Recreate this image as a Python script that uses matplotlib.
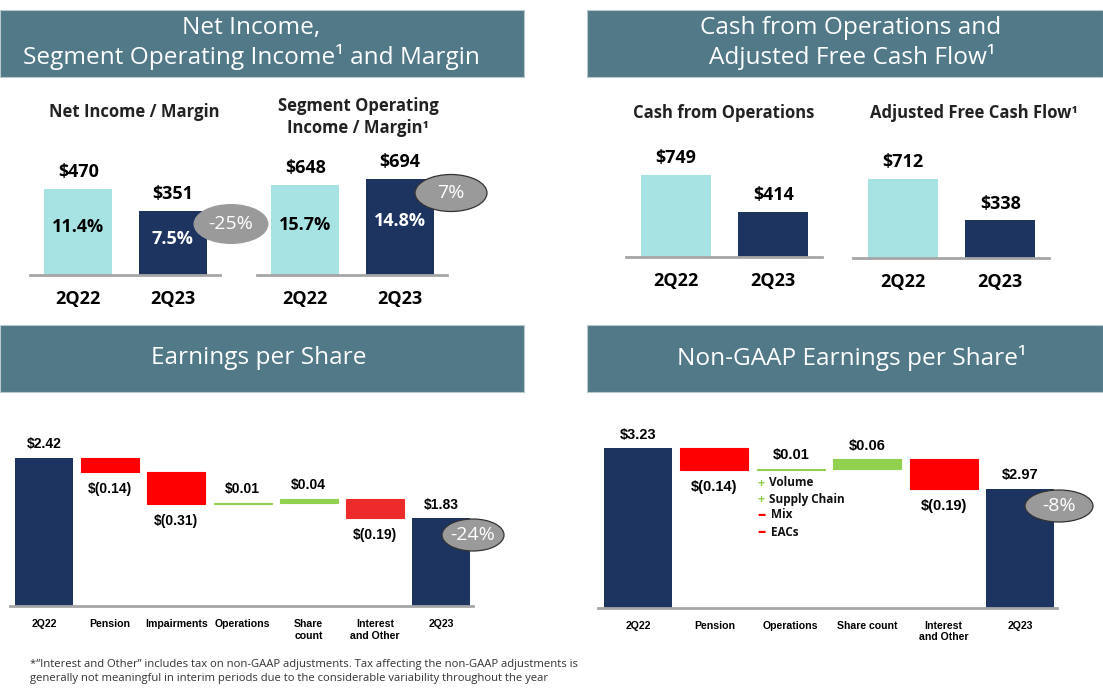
import numpy as np
import matplotlib
matplotlib.use('Agg')
import matplotlib.pyplot as plt
from matplotlib.patches import Ellipse, Rectangle

W, H = 1103, 690
NAVY = '#1D3461'
TEAL = '#A6E3E2'
RED = '#FF0000'
RED2 = '#EE2B2B'
GREEN = '#92D050'
HEAD = '#517987'
AXLINE = '#A6A6A6'
BUBBLE = '#9A9A9A'
TOPF = 'Open Sans'
WFF = 'Liberation Sans'

# ---- data ----
periods = ['2Q22', '2Q23']
net_income = [470, 351]
net_margin = ['11.4%', '7.5%']
seg_income = [648, 694]
seg_margin = ['15.7%', '14.8%']
cash_ops = [749, 414]
adj_fcf = [712, 338]

eps_steps = ['2Q22', 'Pension', 'Impairments', 'Operations', 'Share\ncount',
             'Interest\nand Other', '2Q23']
eps_start, eps_end = 2.42, 1.83
eps_deltas = [-0.14, -0.31, 0.01, 0.04, -0.19]

ng_steps = ['2Q22', 'Pension', 'Operations', 'Share count', 'Interest\nand Other', '2Q23']
ng_start, ng_end = 3.23, 2.97
ng_deltas = [-0.14, 0.01, 0.06, -0.19]

ops_drivers = [('+', 'Volume'), ('+', 'Supply Chain'), ('\u2013', 'Mix'), ('\u2013', 'EACs')]

fig = plt.figure(figsize=(W / 100, H / 100), dpi=100)

# overlay in pixel coordinates for headers, bubbles and captions
ov = fig.add_axes([0, 0, 1, 1])
ov.set_xlim(0, W)
ov.set_ylim(H, 0)
ov.axis('off')
ov.set_zorder(5)
ov.patch.set_alpha(0)


def px_axes(x0, x1, ytop, ybase):
    ax = fig.add_axes([x0 / W, 1 - ybase / H, (x1 - x0) / W, (ybase - ytop) / H])
    ax.patch.set_alpha(0)
    for s in ['top', 'right', 'left']:
        ax.spines[s].set_visible(False)
    ax.spines['bottom'].set_color(AXLINE)
    ax.spines['bottom'].set_linewidth(2)
    ax.tick_params(length=0)
    ax.set_yticks([])
    return ax


def pair_chart(x0, x1, ytop, ybase, vals, scale, margins=None):
    ax = px_axes(x0, x1, ytop, ybase)
    x = np.arange(len(vals))
    ax.bar(x, vals, 0.72, color=[TEAL, NAVY])
    ax.set_xlim(-0.51, 1.5)
    ax.set_ylim(0, (ybase - ytop) / scale)
    ax.set_xticks(x, periods, fontsize=13, fontweight='bold', family=TOPF)
    ax.tick_params(pad=10.5)
    for xi, v in zip(x, vals):
        ax.annotate('$%d' % v, (xi, v), xytext=(0, 12), textcoords='offset points',
                    ha='center', va='center', fontsize=13, fontweight='bold', family=TOPF)
    if margins:
        for xi, v, m, c in zip(x, vals, margins, ['black', 'white']):
            ax.text(xi, v * 0.56, m, ha='center', va='center', fontsize=13,
                    fontweight='bold', family=TOPF, color=c)
    return ax


def eps_text(v):
    return '$(%.2f)' % -v if v < 0 else '$%.2f' % v


def waterfall(x0, x1, ytop, ybase, start, deltas, end, steps, base, scale,
              xmin, xmax, width, colors, fs):
    ax = px_axes(x0, x1, ytop, ybase)
    n = len(deltas) + 2
    x = np.arange(n)
    levels = start + np.concatenate([[0], np.cumsum(deltas)])
    ax.bar([0, n - 1], [start, end], width, color=NAVY)
    lows = np.minimum(levels[:-1], levels[1:])
    ax.bar(x[1:-1], np.abs(deltas), width, bottom=lows, color=colors,
           edgecolor=colors, linewidth=0.8)
    ax.set_xlim(xmin, xmax)
    ax.set_ylim(base, base + (ybase - ytop) / scale)
    ax.set_xticks(x, steps, fontsize=7.6, fontweight='bold', family=WFF)
    ax.tick_params(pad=9.5)
    lab = [(0, start)] + list(zip(x[1:-1], deltas)) + [(n - 1, end)]
    tops = [start] + list(np.maximum(levels[:-1], levels[1:])) + [end]
    for (xi, v), lo, hi in zip(lab, [start] + list(lows) + [end], tops):
        if v < 0:
            ax.annotate(eps_text(v), (xi, lo), xytext=(0, -12), textcoords='offset points',
                        ha='center', va='center', fontsize=fs, fontweight='bold', family=WFF)
        else:
            ax.annotate(eps_text(v), (xi, hi), xytext=(0, 9.8), textcoords='offset points',
                        ha='center', va='center', fontsize=fs, fontweight='bold', family=WFF)
    return ax


# ---- headers ----
def header(x0, x1, y0, y1, lines):
    ov.add_patch(Rectangle((x0, y0), x1 - x0, y1 - y0, fc=HEAD, ec='#B9C9CE', lw=0.8))
    for (xc, yc, t) in lines:
        ov.text(xc, yc, t, ha='center', va='center', color='white', fontsize=17.6, family=TOPF)


header(0, 524, 10, 77, [(251, 28, 'Net Income,'),
                        (251, 57, 'Segment Operating Income\u00b9 and Margin')])
header(587, 1103, 10, 77, [(851, 28, 'Cash from Operations and'),
                           (852, 57, 'Adjusted Free Cash Flow\u00b9')])
header(0, 524, 325, 392, [(259, 358, 'Earnings per Share')])
header(587, 1103, 325, 392, [(852, 358, 'Non-GAAP Earnings per Share\u00b9')])

# ---- subtitles ----
sub = dict(ha='center', va='center', fontsize=12, fontweight='bold', family=TOPF, color='#222222')
ov.text(134, 112, 'Net Income / Margin', **sub)
ov.text(358, 106, 'Segment Operating', **sub)
ov.text(358, 128, 'Income / Margin\u00b9', **sub)
ov.text(724, 113, 'Cash from Operations', **sub)
ov.text(974, 113, 'Adjusted Free Cash Flow\u00b9', **sub)

# ---- top bar charts ----
pair_chart(30, 220, 140, 275, net_income, 0.183, net_margin)
pair_chart(257, 447, 140, 275, seg_income, 0.1389, seg_margin)
pair_chart(626, 822, 140, 257, cash_ops, 0.1095)
pair_chart(853, 1049, 140, 258, adj_fcf, 0.111)

# ---- waterfalls ----
waterfall(10, 473, 415, 606, eps_start, eps_deltas, eps_end, eps_steps, 0.97, 102,
          -0.514, 6.483, 0.877, [RED, RED, GREEN, GREEN, RED2], 10)
waterfall(598, 1057, 415, 607.5, ng_start, ng_deltas, ng_end, ng_steps, 2.215, 157,
          -0.524, 5.484, 0.89, [RED, GREEN, GREEN, RED], 10.5)

# operations drivers
for i, (sign, txt) in enumerate(ops_drivers):
    y = [483, 500, 515, 532][i]
    ov.text(761, y, sign, ha='center', va='center', fontsize=9 if sign == '+' else 12,
            fontweight='bold', family=TOPF, color=GREEN if sign == '+' else RED)
    ov.text(769 if sign == '+' else 771, y, txt, ha='left', va='center', fontsize=8.5,
            fontweight='bold', family=TOPF, color='#111111')

# ---- change bubbles ----
bubbles = [(231, 224, 75, 40, '-25%', 'none'),
           (451, 193, 72, 37, '7%', '#333333'),
           (473, 535, 62, 32, '-24%', '#333333'),
           (1059, 506, 68, 32, '-8%', '#333333')]
for xc, yc, bw, bh, t, ec in bubbles:
    ov.add_patch(Ellipse((xc, yc), bw, bh, fc=BUBBLE, ec=ec, lw=0.9))
    ov.text(xc, yc, t, ha='center', va='center', color='white', fontsize=14, family=TOPF)

# ---- footnote ----
ov.text(30, 664, '*\u201cInterest and Other\u201d includes tax on non-GAAP adjustments. '
        'Tax affecting the non-GAAP adjustments is', ha='left', va='center',
        fontsize=8.1, family=TOPF, color='#333333')
ov.text(30, 679, 'generally not meaningful in interim periods due to the considerable '
        'variability throughout the year', ha='left', va='center',
        fontsize=8.1, family=TOPF, color='#333333')

fig.savefig('out.png', dpi=100)
